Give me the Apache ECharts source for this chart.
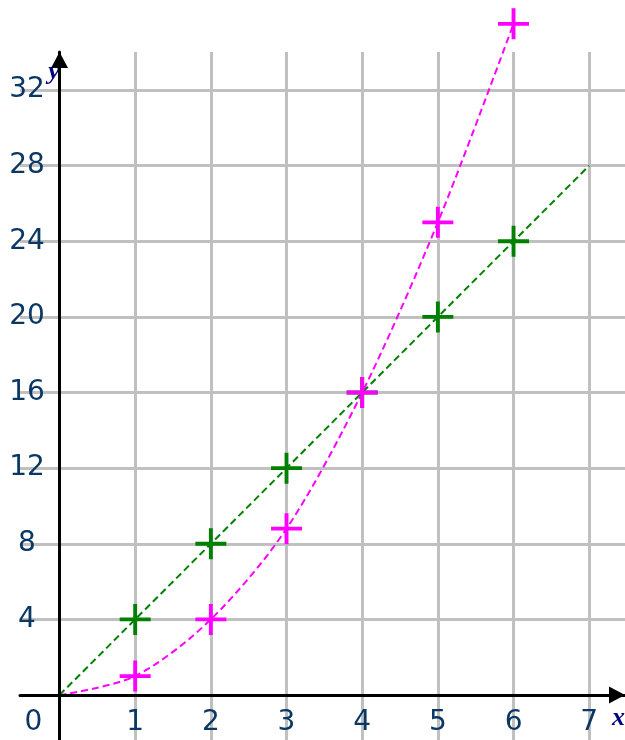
<!DOCTYPE html>
<html>
<head>
<meta charset="utf-8">
<script src="https://cdn.jsdelivr.net/npm/echarts@6/dist/echarts.min.js"></script>
<style>
  html, body { margin: 0; padding: 0; background: #fff; }
  #chart { width: 625px; height: 740px; }
</style>
</head>
<body>
<div id="chart"></div>
<script>
// tick labels
const xTicks = [0, 1, 2, 3, 4, 5, 6, 7]
const yTicks = [4, 8, 12, 16, 20, 24, 28, 32]
// grid lines
const gridX = [1, 2, 3, 4, 5, 6, 7]
const gridY = [4, 8, 12, 16, 20, 24, 28, 32]
// plotted points
const pointX = [1, 2, 3, 4, 5, 6]
const greenY = [4, 8, 12, 16, 20, 24]
const magentaY = [1, 4, 8.8, 16, 25, 35.5]
// dashed lines
const greenLineX = [0, 7]
const greenLineY = [0, 28]
const magentaLineX = [0, 1, 2, 3, 4, 5, 6]
const magentaLineY = [0, 1, 4, 8.8, 16, 25, 35.5]

const labelColor = '#0a3764'
const labelFont = 'DejaVu Sans, Verdana, sans-serif'
const plus = 'path://M0,14L32,14L32,18L0,18Z M14,0L18,0L18,32L14,32Z'

const zip = (xs, ys) => xs.map((x, i) => [x, ys[i]])

const chart = echarts.init(document.getElementById('chart'))

const option = {
  animation: false,
  grid: {
    left: 20, right: 0, top: 52, bottom: 0,
    containLabel: false,
    outerBoundsMode: 'none'
  },
  xAxis: {
    type: 'value',
    min: -0.522,
    max: 7.473,
    z: 5,
    name: 'x',
    nameLocation: 'end',
    nameGap: -13,
    nameMoveOverlap: false,
    nameTextStyle: {
      color: '#000080',
      fontFamily: 'Liberation Serif, serif',
      fontStyle: 'italic',
      fontWeight: 'bold',
      fontSize: 26,
      align: 'left',
      verticalAlign: 'top',
      padding: [10, 0, 0, 0]
    },
    axisLine: {
      onZero: true,
      symbol: ['none', 'triangle'],
      symbolSize: [17, 16],
      symbolOffset: [0, -8],
      lineStyle: { color: '#000', width: 3 }
    },
    axisTick: { show: false },
    splitLine: { show: false },
    axisLabel: {
      customValues: xTicks,
      margin: -17,
      verticalAlign: 'middle',
      color: labelColor,
      fontFamily: labelFont,
      fontSize: 28,
      formatter: v => v === 0 ? '{z|0}' : String(v),
      rich: {
        z: {
          color: labelColor,
          fontFamily: labelFont,
          fontSize: 28,
          padding: [0, 52, 0, 0]
        }
      }
    }
  },
  yAxis: {
    type: 'value',
    min: -2.38,
    max: 34.01,
    z: 5,
    name: 'y',
    nameLocation: 'end',
    nameGap: -7,
    nameMoveOverlap: false,
    nameTextStyle: {
      color: '#000080',
      fontFamily: 'Liberation Serif, serif',
      fontStyle: 'italic',
      fontWeight: 'bold',
      fontSize: 26,
      align: 'center',
      verticalAlign: 'top',
      padding: [0, 11, 0, 0]
    },
    axisLine: {
      onZero: true,
      symbol: ['none', 'triangle'],
      symbolSize: [17, 16],
      symbolOffset: [0, -8],
      lineStyle: { color: '#000', width: 3 }
    },
    axisTick: { show: false },
    splitLine: { show: false },
    axisLabel: {
      customValues: yTicks,
      margin: -7,
      align: 'center',
      color: labelColor,
      fontFamily: labelFont,
      fontSize: 28
    }
  },
  series: [
    {
      // grid lines
      type: 'line',
      data: [],
      z: 1,
      silent: true,
      markLine: {
        z: 1,
        silent: true,
        symbol: 'none',
        label: { show: false },
        emphasis: { disabled: true },
        lineStyle: { color: '#c0c0c0', width: 3, type: 'solid' },
        data: [
          ...gridX.map(v => ({ xAxis: v })),
          ...gridY.map(v => ({ yAxis: v }))
        ]
      }
    },
    {
      type: 'line',
      data: zip(greenLineX, greenLineY),
      showSymbol: false,
      clip: false,
      z: 3,
      lineStyle: { color: '#008000', width: 2, type: [7, 4] }
    },
    {
      type: 'line',
      data: zip(magentaLineX, magentaLineY),
      smooth: 0.3,
      showSymbol: false,
      clip: false,
      z: 3,
      lineStyle: { color: '#ff00ff', width: 2, type: [7, 4] }
    },
    {
      type: 'scatter',
      data: zip(pointX, greenY),
      symbol: plus,
      symbolSize: 31,
      clip: false,
      z: 4,
      itemStyle: { color: '#008000', opacity: 1 }
    },
    {
      type: 'scatter',
      data: zip(pointX, magentaY),
      symbol: plus,
      symbolSize: 31,
      clip: false,
      z: 4,
      itemStyle: { color: '#ff00ff', opacity: 1 }
    }
  ]
}

chart.setOption(option)
</script>
</body>
</html>
